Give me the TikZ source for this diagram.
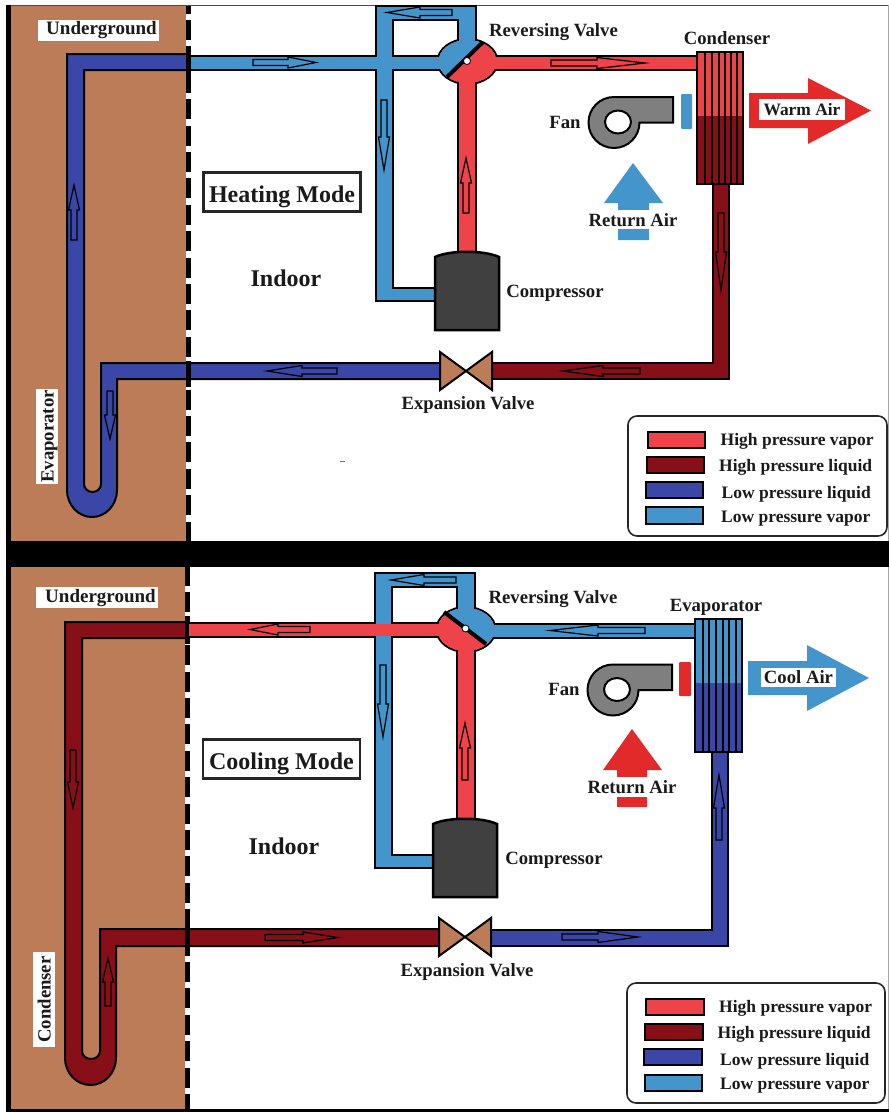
\documentclass[tikz,border=0pt]{standalone}
\usepackage{fontspec}
\setmainfont{Liberation Serif}
\definecolor{hv}{HTML}{EE4349}
\definecolor{hl}{HTML}{871018}
\definecolor{ll}{HTML}{3A47A6}
\definecolor{lv}{HTML}{4395CC}
\definecolor{soil}{HTML}{BC7C58}
\definecolor{fangray}{HTML}{7F7F7F}
\definecolor{comp}{HTML}{404040}
\definecolor{airred}{HTML}{E22A2B}
\definecolor{ink}{HTML}{1A1A1A}
\tikzset{
  lbl/.style={font=\bfseries\fontsize{18.7}{20}\selectfont,text=ink,inner sep=0pt},
  dsc/.style={yshift=-2pt},
  leg/.style={font=\bfseries\fontsize{17.5}{19}\selectfont,text=ink,inner sep=0pt,anchor=west,yshift=-2pt},
  whitelbl/.style={lbl,fill=white},
  rotlbl/.style={lbl,fill=white,rotate=90,minimum width=95pt,minimum height=22pt,text height=13pt,text depth=0pt},
  modebox/.style={lbl,draw=black!85,line width=2.4pt,fill=white,font=\bfseries\fontsize{24}{26}\selectfont,minimum width=157pt,minimum height=39pt,text height=20pt,text depth=0pt},
  bigbold/.style={lbl,font=\bfseries\fontsize{24}{26}\selectfont},
  outlined/.style={draw=black,line width=2pt,line join=miter},
  flowline/.style={draw=black,line width=1.2pt,line join=miter},
  swatch/.style={draw=black,line width=1.8pt},
  dashline/.style={draw=black,line width=5.5pt,dash pattern=on 20pt off 6.4pt},
}
% black outline, then colour on top, of one stroked pipe
\newcommand\pipe[3]{\draw[line width=#2pt,black] #3;\draw[line width={#2pt-4pt},#1] #3;}
\newcommand\flowarrow[5]{%
  \pgfmathsetmacro\fal{veclen(#3-#1,#4-#2)}%
  \pgfmathsetmacro\fux{(#3-#1)/\fal}%
  \pgfmathsetmacro\fuy{(#4-#2)/\fal}%
  \pgfmathsetmacro\fnx{#3-#5*\fux}%
  \pgfmathsetmacro\fny{#4-#5*\fuy}%
  \draw[flowline]
    ({#1-3*\fuy},{#2+3*\fux}) -- ({\fnx-3*\fuy},{\fny+3*\fux}) -- ({\fnx-5.5*\fuy},{\fny+5.5*\fux})
    -- (#3,#4) -- ({\fnx+5.5*\fuy},{\fny-5.5*\fux}) -- ({\fnx+3*\fuy},{\fny-3*\fux}) -- ({#1+3*\fuy},{#2-3*\fux}) -- cycle;}
% the blue bypass loop of the reversing valve: black layer and colour layer
\newcommand\loopblack[2]{\begin{scope}[shift={(#1,#2)}]
  \draw[line width=16pt,black] (375,13)--(477,13);
  \draw[line width=19pt,black] (384.5,5)--(384.5,302);
  \draw[line width=20pt,black] (467,5)--(467,50);
  \draw[line width=15pt,black] (375,294.5)--(436,294.5);
\end{scope}}
\newcommand\loopcolor[2]{\begin{scope}[shift={(#1,#2)}]
  \draw[line width=12pt,lv] (377,13)--(475,13);
  \draw[line width=15pt,lv] (384.5,7)--(384.5,300);
  \draw[line width=16pt,lv] (467,7)--(467,50);
  \draw[line width=11pt,lv] (377,294.5)--(436,294.5);
\end{scope}}
\newcommand\compressor[2]{\begin{scope}[shift={(#1,#2)}]
  \draw[outlined,fill=comp,line width=2.5pt] (435,330)--(435,257) .. controls (450,250) and (484,250) .. (499,257)--(499,330)--cycle;
\end{scope}}
\newcommand\expvalve[2]{\begin{scope}[shift={(#1,#2)}]
  \draw[outlined,fill=soil] (440,352)--(440,390)--(466,371)--(492,352)--(492,390)--(466,371)--cycle;
\end{scope}}
\newcommand\fan[2]{\begin{scope}[shift={(#1,#2)}]
  \draw[outlined,fill=fangray] (673,97)--(614,97) arc[start angle=270,end angle=0,radius=25.5]--(673,122.5)--cycle;
  \draw[outlined,fill=white] (618,122) ellipse[x radius=13,y radius=11.5];
\end{scope}}
\newcommand\coil[8]{% left right top mid bottom upper lower offset-list
  \fill[#6] (#1,#3) rectangle (#2,#4);
  \fill[#7] (#1,#4) rectangle (#2,#5);
  \foreach \cx in {#8} \draw[black,line width=1.6pt] (\cx,#3)--(\cx,#5);
  \draw[black,line width=2.4pt] (#1,#3) rectangle (#2,#5);}
\begin{document}
\begin{tikzpicture}[x=1pt,y=-1pt]
\useasboundingbox (0,0) rectangle (889,1112);
\fill[white] (0,0) rectangle (889,1112);
% ---------- panel backgrounds
\fill[soil] (10,5) rectangle (186,541);
\fill[soil] (10,567) rectangle (185,1109);
\draw[dashline] (188.5,-6.4)--(188.5,541);
\draw[dashline] (187.5,566)--(187.5,1109);
\fill[white] (0,0) rectangle (889,5);
\draw[black!70,line width=.8pt] (6,5)--(889,5);
\draw[black!35,line width=.8pt] (888,5)--(888,1109);
\fill[black] (6,5) rectangle (10.5,1112);
\fill[black] (6,541) rectangle (889,567);
\fill[black] (6,1108.5) rectangle (889,1112);
% ================ HEATING MODE
% ground loop
\draw[outlined,fill=ll] (188,54)--(67,54)--(67,490) arc[start angle=180,end angle=0,x radius=25,y radius=27]
  --(117,379)--(441,379)--(441,363)--(101,363)--(101,484) arc[start angle=0,end angle=180,x radius=8.5,y radius=8]
  --(84,70)--(188,70)--cycle;
\fill[black] (186,50) rectangle (191,78);
\fill[black] (186,361) rectangle (191,387);
% valve body, pipes, valve interior
\draw[outlined,fill=white] (467.5,61.5) ellipse[x radius=30,y radius=22.5];
\loopblack{0}{0}
\draw[line width=16pt,black] (190,62.5)--(467,62.5);
\draw[line width=20pt,black] (467,255)--(467,62);
\draw[line width=16pt,black] (467,63)--(698,63);
\loopcolor{0}{0}
\draw[line width=12pt,lv] (191,62.5)--(467,62.5);
\draw[line width=16pt,hv] (467,255)--(467,62);
\draw[line width=12pt,hv] (467,63)--(698,63);
\begin{scope}
  \clip (467.5,61.5) ellipse[x radius=29,y radius=21.5];
  \fill[hv] (430,30) rectangle (505,95);
  \fill[lv] (427,97)--(503,22)--(420,22)--(420,97)--cycle;
\end{scope}
\draw[black,line width=4pt] (447,77)--(483,42);
\fill[white,draw=black,line width=.8pt] (467,61) circle[radius=3.5];
% liquid line
\pipe{hl}{18}{(491,371)--(721,371)--(721,183)}
\compressor{0}{0}
\expvalve{0}{0}
\coil{697}{743}{52}{116}{184}{hv}{hl}{705,712,719,725,731,737}
\fan{0}{0}
\fill[lv,rounded corners=1pt] (681,94) rectangle (692,129);
% flow arrows
\flowarrow{452}{12.5}{387}{12.5}{33}
\flowarrow{384}{100}{384}{170}{33}
\flowarrow{253}{62.5}{316}{62.5}{28}
\flowarrow{551}{63}{645}{63}{48}
\flowarrow{466}{213}{466}{158}{25}
\flowarrow{721}{213}{721}{290}{38}
\flowarrow{640}{371}{563}{371}{40}
\flowarrow{337}{371}{267}{371}{35}
\flowarrow{74}{240}{74}{185}{25}
\flowarrow{110}{391}{110}{439}{24}
% air arrows
\fill[airred] (749,93)--(808,93)--(808,78)--(871,110.5)--(808,144)--(808,128)--(749,128)--cycle;
\fill[lv] (633,163)--(663,203)--(649,203)--(649,240)--(618,240)--(618,203)--(604,203)--cycle;
\fill[white] (610,210) rectangle (656,229);
\node[whitelbl,font=\bfseries\fontsize{17.4}{19}\selectfont,minimum width=86pt,minimum height=21pt] (warmair) at (802,109.5) {Warm Air};
\node[lbl] (returnair1) at (633,220) {Return Air};
% labels
\fill[white] (38,20) rectangle (159,41);
\node[lbl,dsc,font=\bfseries\fontsize{19}{21}\selectfont] (ug1) at (101.5,28.5) {Underground};
\node[rotlbl] (evap1) at (47,436.5) {Evaporator};
\node[lbl,dsc] (rv1) at (553.5,30) {Reversing Valve};
\node[lbl] (cond1) at (727,38) {Condenser};
\node[lbl] (fan1) at (565,122) {Fan};
\node[lbl,dsc] (cp1) at (555,291) {Compressor};
\node[lbl,dsc] (ev1) at (468,403) {Expansion Valve};
\node[bigbold] (indoor1) at (286,278) {Indoor};
\node[modebox] (mode1) at (282,192) {Heating Mode};
\draw[black!55,line width=1pt] (340,461)--(345,461);
% legend
\draw[black!85,line width=1.6pt,fill=white,rounded corners=9pt] (628,416) rectangle (887,536);
\draw[swatch,fill=hv] (648,432) rectangle (705,448);
\draw[swatch,fill=hl] (647,457) rectangle (704,473);
\draw[swatch,fill=ll] (646,482) rectangle (703,498);
\draw[swatch,fill=lv] (646,507) rectangle (703,524);
\node[leg] (l11) at (720.5,439) {High pressure vapor};
\node[leg] (l12) at (719,465) {High pressure liquid};
\node[leg] (l13) at (721.5,492) {Low pressure liquid};
\node[leg] (l14) at (721,517) {Low pressure vapor};
% ================ COOLING MODE
\draw[outlined,fill=hl] (187,622)--(65,622)--(65,1058) arc[start angle=180,end angle=0,x radius=25.5,y radius=27]
  --(116,946)--(439,946)--(439,929)--(100,929)--(100,1051) arc[start angle=0,end angle=180,x radius=9,y radius=8]
  --(82,638)--(187,638)--cycle;
\fill[black] (185,616) rectangle (190,644);
\fill[black] (185,928) rectangle (190,954);
\draw[outlined,fill=white] (466,629.5) ellipse[x radius=29.5,y radius=22.5];
\loopblack{-1}{566.5}
\draw[line width=16pt,black] (188,630)--(466,630);
\draw[line width=20pt,black] (466,822)--(466,630);
\draw[line width=16pt,black] (466,630.5)--(696,630.5);
\loopcolor{-1}{566.5}
\draw[line width=12pt,hv] (189,630)--(466,630);
\draw[line width=16pt,hv] (466,822)--(466,630);
\draw[line width=12pt,lv] (466,630.5)--(696,630.5);
\begin{scope}
  \clip (466,629.5) ellipse[x radius=28.5,y radius=21.5];
  \fill[hv] (430,600) rectangle (505,660);
  \fill[lv] (424,597)--(506,659)--(520,659)--(520,597)--cycle;
\end{scope}
\draw[black,line width=4pt] (444,612)--(486,644);
\fill[white,draw=black,line width=.8pt] (465.5,628.5) circle[radius=3.5];
\pipe{ll}{18}{(490,937.5)--(719.5,937.5)--(719.5,750)}
\compressor{-2}{567}
\expvalve{-1}{566}
\coil{695}{742}{619}{683}{752}{lv}{ll}{703,709,716,723,729,736}
\fan{-1}{567.5}
\fill[airred,rounded corners=1pt] (679,662) rectangle (691,696);
\flowarrow{456}{580}{391}{580}{33}
\flowarrow{383}{665}{383}{737}{33}
\flowarrow{310}{629.5}{250}{629.5}{28}
\flowarrow{645}{630.5}{550}{630.5}{48}
\flowarrow{465}{780}{465}{723}{25}
\flowarrow{719}{840}{719}{775}{33}
\flowarrow{562}{937}{638}{937}{40}
\flowarrow{265}{937.5}{338}{937.5}{35}
\flowarrow{73}{750}{73}{808}{26}
\flowarrow{108}{1006}{108}{958}{24}
\fill[lv] (748,661)--(807,661)--(807,645)--(869,678)--(807,711)--(807,695)--(748,695)--cycle;
\fill[airred] (632,729)--(662,770)--(647,770)--(647,807)--(617,807)--(617,770)--(603,770)--cycle;
\fill[white] (608,777) rectangle (656,797);
\node[whitelbl,minimum width=75pt,minimum height=19pt] (coolair) at (798.5,677.5) {Cool Air};
\node[lbl] (returnair2) at (632,787) {Return Air};
\fill[white] (36,587) rectangle (158,608);
\node[lbl,dsc,font=\bfseries\fontsize{19}{21}\selectfont] (ug2) at (100.5,595.5) {Underground};
\node[rotlbl] (cond2) at (44,999.5) {Condenser};
\node[lbl,dsc] (rv2) at (553,597) {Reversing Valve};
\node[lbl,dsc] (evap2) at (716,605) {Evaporator};
\node[lbl] (fan2) at (564,689) {Fan};
\node[lbl,dsc] (cp2) at (554,858) {Compressor};
\node[lbl,dsc] (ev2) at (467,970) {Expansion Valve};
\node[bigbold] (indoor2) at (284,846) {Indoor};
\node[modebox] (mode2) at (281.5,759) {Cooling Mode};
\draw[black!85,line width=1.6pt,fill=white,rounded corners=9pt] (627,983) rectangle (885,1103);
\draw[swatch,fill=hv] (646,999) rectangle (704,1015);
\draw[swatch,fill=hl] (645,1024) rectangle (703,1040);
\draw[swatch,fill=ll] (644,1049) rectangle (702,1065);
\draw[swatch,fill=lv] (645,1075) rectangle (702,1091);
\node[leg] (l21) at (719,1006) {High pressure vapor};
\node[leg] (l22) at (717.5,1032) {High pressure liquid};
\node[leg] (l23) at (720,1059) {Low pressure liquid};
\node[leg] (l24) at (720,1084) {Low pressure vapor};
\end{tikzpicture}
\end{document}
